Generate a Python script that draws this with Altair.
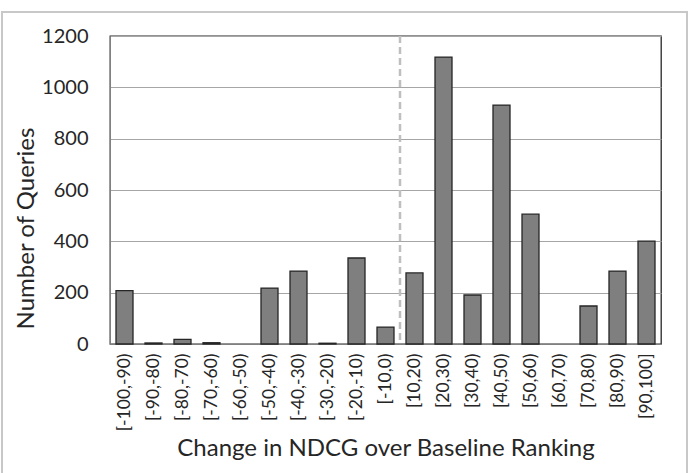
import altair as alt
import pandas as pd

categories = ["[-100,-90)", "[-90,-80)", "[-80,-70)", "[-70,-60)", "[-60,-50)",
              "[-50,-40)", "[-40,-30)", "[-30,-20)", "[-20,-10)", "[-10,0)",
              "[10,20)", "[20,30)", "[30,40)", "[40,50)", "[50,60)", "[60,70)",
              "[70,80)", "[80,90)", "[90,100]"]
counts = [208, 4, 18, 5, 0, 218, 284, 3, 335, 66,
          277, 1118, 191, 931, 506, 0, 148, 284, 401]
y_ticks = [0, 200, 400, 600, 800, 1000, 1200]
divider_after = ["[-10,0)"]

FONT = "Lato"
TEXT = "#262626"

df = pd.DataFrame({"cat": categories, "count": counts})
div_df = pd.DataFrame({"cat": divider_after})

x_enc = alt.X("cat:N", sort=categories,
              scale=alt.Scale(paddingInner=0, paddingOuter=0),
              axis=alt.Axis(title="Change in NDCG over Baseline Ranking",
                            labelAngle=270, labelFontSize=17.5, labelColor=TEXT,
                            labelFont=FONT, labelPadding=9, ticks=False,
                            domain=True, domainColor="#808080",
                            titleFont=FONT, titleFontSize=24, titleFontWeight="normal",
                            titleColor=TEXT, titlePadding=6))

bars = alt.Chart(df).mark_bar(size=17, color="#7f7f7f", stroke="#262626",
                              strokeWidth=1.3).encode(
    x=x_enc,
    y=alt.Y("count:Q", scale=alt.Scale(domain=[0, 1200], nice=False),
            axis=alt.Axis(title="Number of Queries", values=y_ticks, format="d",
                          labelFontSize=20, labelColor=TEXT, labelFont=FONT,
                          labelPadding=22, ticks=False, domainColor="#808080",
                          grid=True, gridColor="#a6a6a6", gridWidth=1.2,
                          titleFont=FONT, titleFontSize=24, titleFontWeight="normal",
                          titleColor=TEXT, titleX=-72, titleY=192)),
    strokeOpacity=alt.condition("datum.count > 0", alt.value(1), alt.value(0))
)

divider = alt.Chart(div_df).mark_rule(color="#bfbfbf", strokeWidth=2.5,
                                       strokeDash=[7, 4]).encode(
    x=alt.X("cat:N", sort=categories, bandPosition=1),
    y=alt.value(0), y2=alt.value(308)
)

frame = alt.Chart(div_df).mark_rect(fill=None, fillOpacity=0, stroke="#c8c8c8",
                                     strokeWidth=2).encode(
    x=alt.value(-108), x2=alt.value(577), y=alt.value(-24), y2=alt.value(445)
)

chart = alt.layer(frame, bars, divider).properties(
    width=551, height=308,
    autosize=alt.AutoSizeParams(type="none"),
    padding={"left": 110, "top": 36, "right": 29, "bottom": 129},
    background="white"
).configure_view(stroke="#262626", strokeWidth=1.3)

chart.save("out.html", embed_options={"renderer": "svg", "actions": False})
